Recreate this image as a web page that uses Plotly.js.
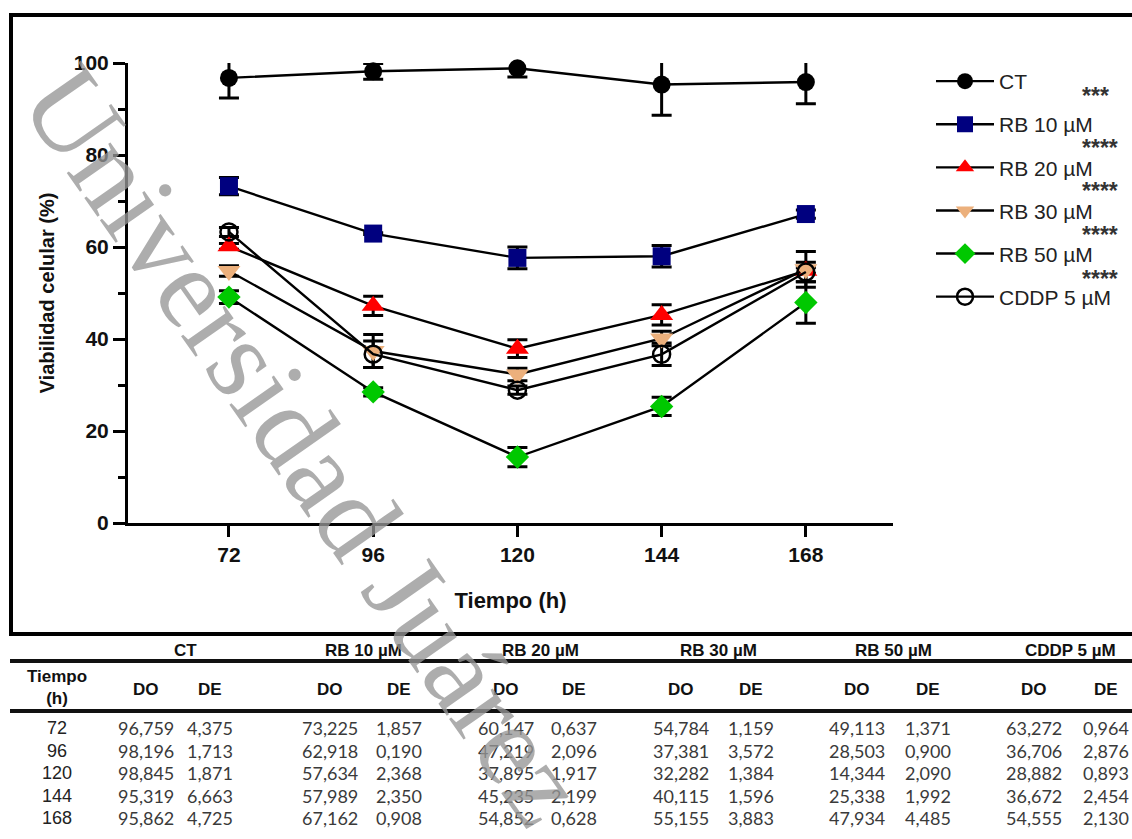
<!DOCTYPE html>
<html>
<head>
<meta charset="utf-8">
<script src="https://cdn.plot.ly/plotly-3.0.1.min.js"></script>
<style>
  html, body { margin: 0; padding: 0; background: #fff; }
  #chart { width: 1132px; height: 839px; }
</style>
</head>
<body>
<div id="chart"></div>
<script>
// ---------------- DATA ----------------
const times = [72, 96, 120, 144, 168];
const seriesNames = ['CT', 'RB 10 µM', 'RB 20 µM', 'RB 30 µM', 'RB 50 µM', 'CDDP 5 µM'];
const ctDO   = [96.759, 98.196, 98.845, 95.319, 95.862];
const ctDE   = [4.375, 1.713, 1.871, 6.663, 4.725];
const rb10DO = [73.225, 62.918, 57.634, 57.989, 67.162];
const rb10DE = [1.857, 0.190, 2.368, 2.350, 0.908];
const rb20DO = [60.147, 47.219, 37.895, 45.235, 54.852];
const rb20DE = [0.637, 2.096, 1.917, 2.199, 0.628];
const rb30DO = [54.784, 37.381, 32.282, 40.115, 55.155];
const rb30DE = [1.159, 3.572, 1.384, 1.596, 3.883];
const rb50DO = [49.113, 28.503, 14.344, 25.338, 47.934];
const rb50DE = [1.371, 0.900, 2.090, 1.992, 4.485];
const cddpDO = [63.272, 36.706, 28.882, 36.672, 54.555];
const cddpDE = [0.964, 2.876, 0.893, 2.454, 2.130];
const significance = ['***', '****', '****', '****', '****'];
const yTicks = [0, 20, 40, 60, 80, 100];
const yMinorTicks = [10, 30, 50, 70, 90];
const xTitle = 'Tiempo (h)';
const yTitle = 'Viabilidad celular (%)';
const tableTimeHeader = 'Tiempo<br>(h)';
const tableSubHeaders = ['DO', 'DE'];
const watermark = 'Universidad Juárez';

const allDO = [ctDO, rb10DO, rb20DO, rb30DO, rb50DO, cddpDO];
const allDE = [ctDE, rb10DE, rb20DE, rb30DE, rb50DE, cddpDE];

// ---------------- STYLE ----------------
const symbols = ['circle', 'square', 'triangle-up', 'triangle-down', 'diamond', 'circle-open'];
const colors  = ['#000000', '#00007f', '#ff0000', '#ecb07c', '#00c800', '#000000'];
const sizes   = [18, 18, 20, 20, 18, 17];

const W = 1132, H = 839, ML = 128, MR = 239, MT = 63, MB = 316;
const PW = W - ML - MR, PH = H - MT - MB;
const px = x => (x - ML) / PW;
const py = y => 1 - (y - MT) / PH;

const axisFont = {family: 'Arial, Liberation Sans, sans-serif', size: 21, color: '#111', weight: 'bold'};

// ---------------- TRACES ----------------
const traces = [];
// error bars (clipped to the plotting area, like the original)
seriesNames.forEach((n, i) => {
  traces.push({
    x: times, y: allDO[i], type: 'scatter', mode: 'lines',
    line: {width: 0, color: 'rgba(0,0,0,0)'},
    error_y: {type: 'data', array: allDE[i], visible: true, color: '#000', thickness: 3, width: 10},
    showlegend: false, hoverinfo: 'skip', xaxis: 'x', yaxis: 'y'
  });
});
// lines + markers (markers not clipped)
seriesNames.forEach((n, i) => {
  traces.push({
    x: times, y: allDO[i], type: 'scatter', mode: 'lines+markers', name: n,
    legendgroup: 'g' + i,
    line: {color: '#000', width: 2.4},
    marker: {symbol: symbols[i], color: colors[i], size: sizes[i],
             line: {width: symbols[i] === 'circle-open' ? 2.5 : 0, color: '#000'}},
    cliponaxis: false, xaxis: 'x', yaxis: 'y2'
  });
});

// ---------------- ANNOTATIONS ----------------
const annotations = [];
// significance stars
const starY = [96, 148, 191, 235, 279];
significance.forEach((s, i) => {
  annotations.push({text: s, xref: 'paper', yref: 'paper', x: px(1080), y: py(starY[i]),
    xanchor: 'left', yanchor: 'middle', showarrow: false,
    font: {family: 'Arial, Liberation Sans, sans-serif', size: 23, color: '#333', weight: 'bold'}});
});

// table
const groupX = [185, 363, 540, 718, 893, 1070];
const colDO  = [146, 330, 506, 681, 857, 1034];
const colDE  = [210, 399, 574, 751, 928, 1106];
const hdrFont = {family: 'Arial, Liberation Sans, sans-serif', size: 17, color: '#111', weight: 'bold'};
const cellFont = {family: 'Lato, Open Sans, sans-serif', size: 18, color: '#3a3a3a'};
seriesNames.forEach((n, i) => {
  annotations.push({text: n, xref: 'paper', yref: 'paper', x: px(groupX[i]), y: py(650),
    xanchor: 'center', yanchor: 'middle', showarrow: false, font: hdrFont});
  annotations.push({text: tableSubHeaders[0], xref: 'paper', yref: 'paper', x: px(colDO[i]), y: py(689),
    xanchor: 'center', yanchor: 'middle', showarrow: false, font: hdrFont});
  annotations.push({text: tableSubHeaders[1], xref: 'paper', yref: 'paper', x: px(colDE[i]), y: py(689),
    xanchor: 'center', yanchor: 'middle', showarrow: false, font: hdrFont});
});
annotations.push({text: tableTimeHeader, xref: 'paper', yref: 'paper', x: px(57), y: py(687),
  xanchor: 'center', yanchor: 'middle', showarrow: false, font: hdrFont});
const rowY = [728, 750.5, 773, 795.5, 818];
const fmt = v => v.toFixed(3).replace('.', ',');
times.forEach((t, r) => {
  annotations.push({text: String(t), xref: 'paper', yref: 'paper', x: px(57), y: py(rowY[r]),
    xanchor: 'center', yanchor: 'middle', showarrow: false,
    font: {family: 'Arial, Liberation Sans, sans-serif', size: 18, color: '#222'}});
  seriesNames.forEach((n, i) => {
    annotations.push({text: fmt(allDO[i][r]), xref: 'paper', yref: 'paper', x: px(colDO[i]), y: py(rowY[r]),
      xanchor: 'center', yanchor: 'middle', showarrow: false, font: cellFont});
    annotations.push({text: fmt(allDE[i][r]), xref: 'paper', yref: 'paper', x: px(colDE[i]), y: py(rowY[r]),
      xanchor: 'center', yanchor: 'middle', showarrow: false, font: cellFont});
  });
});

// watermark
annotations.push({text: watermark, xref: 'paper', yref: 'paper', x: px(305), y: py(445),
  xanchor: 'center', yanchor: 'middle', showarrow: false, textangle: 55,
  font: {family: 'Liberation Serif, Times New Roman, serif', size: 116, color: 'rgba(150,150,150,0.78)'}});

// ---------------- SHAPES ----------------
const shapes = [
  {type: 'rect', xref: 'paper', yref: 'paper', x0: px(11), x1: px(1150), y0: py(15), y1: py(634),
   line: {color: '#000', width: 4}, fillcolor: 'rgba(0,0,0,0)', layer: 'below'},
  {type: 'line', xref: 'paper', yref: 'paper', x0: px(10), x1: px(1140), y0: py(661), y1: py(661),
   line: {color: '#111', width: 4}},
  {type: 'line', xref: 'paper', yref: 'paper', x0: px(10), x1: px(1140), y0: py(711), y1: py(711),
   line: {color: '#111', width: 4}}
];

// ---------------- LAYOUT ----------------
const layout = {
  width: W, height: H,
  margin: {l: ML, r: MR, t: MT, b: MB, pad: 0},
  paper_bgcolor: '#fff', plot_bgcolor: 'rgba(0,0,0,0)',
  font: {family: 'Arial, Liberation Sans, sans-serif', color: '#111'},
  xaxis: {
    range: [55.2, 182.5], tickvals: times, ticktext: times.map(String),
    showgrid: false, zeroline: false, showline: true, linecolor: '#000', linewidth: 3,
    ticks: 'outside', ticklen: 11, tickwidth: 3, tickcolor: '#000',
    tickfont: axisFont,
    title: {text: xTitle, font: {family: 'Arial, Liberation Sans, sans-serif', size: 22, color: '#111', weight: 'bold'}, standoff: 28}
  },
  yaxis: {
    range: [0, 100], tickvals: yTicks, ticktext: yTicks.map(String),
    showgrid: false, zeroline: false, showline: true, linecolor: '#000', linewidth: 3,
    ticks: 'outside', ticklen: 12, tickwidth: 3, tickcolor: '#000',
    minor: {tickvals: yMinorTicks, ticks: 'outside', ticklen: 7, tickwidth: 3, tickcolor: '#000', showgrid: false},
    tickfont: axisFont,
    title: {text: yTitle, font: {family: 'Arial, Liberation Sans, sans-serif', size: 20, color: '#111', weight: 'bold'}, standoff: 14}
  },
  yaxis2: {range: [0, 100], overlaying: 'y', visible: false},
  showlegend: true,
  legend: {
    x: px(931), y: py(61), xanchor: 'left', yanchor: 'top',
    font: {family: 'Arial, Liberation Sans, sans-serif', size: 21, color: '#222'},
    tracegroupgap: 12.8, itemwidth: 58, bgcolor: 'rgba(0,0,0,0)', borderwidth: 0
  },
  annotations: annotations,
  shapes: shapes
};

Plotly.newPlot('chart', traces, layout, {displayModeBar: false, staticPlot: true});
</script>
</body>
</html>
